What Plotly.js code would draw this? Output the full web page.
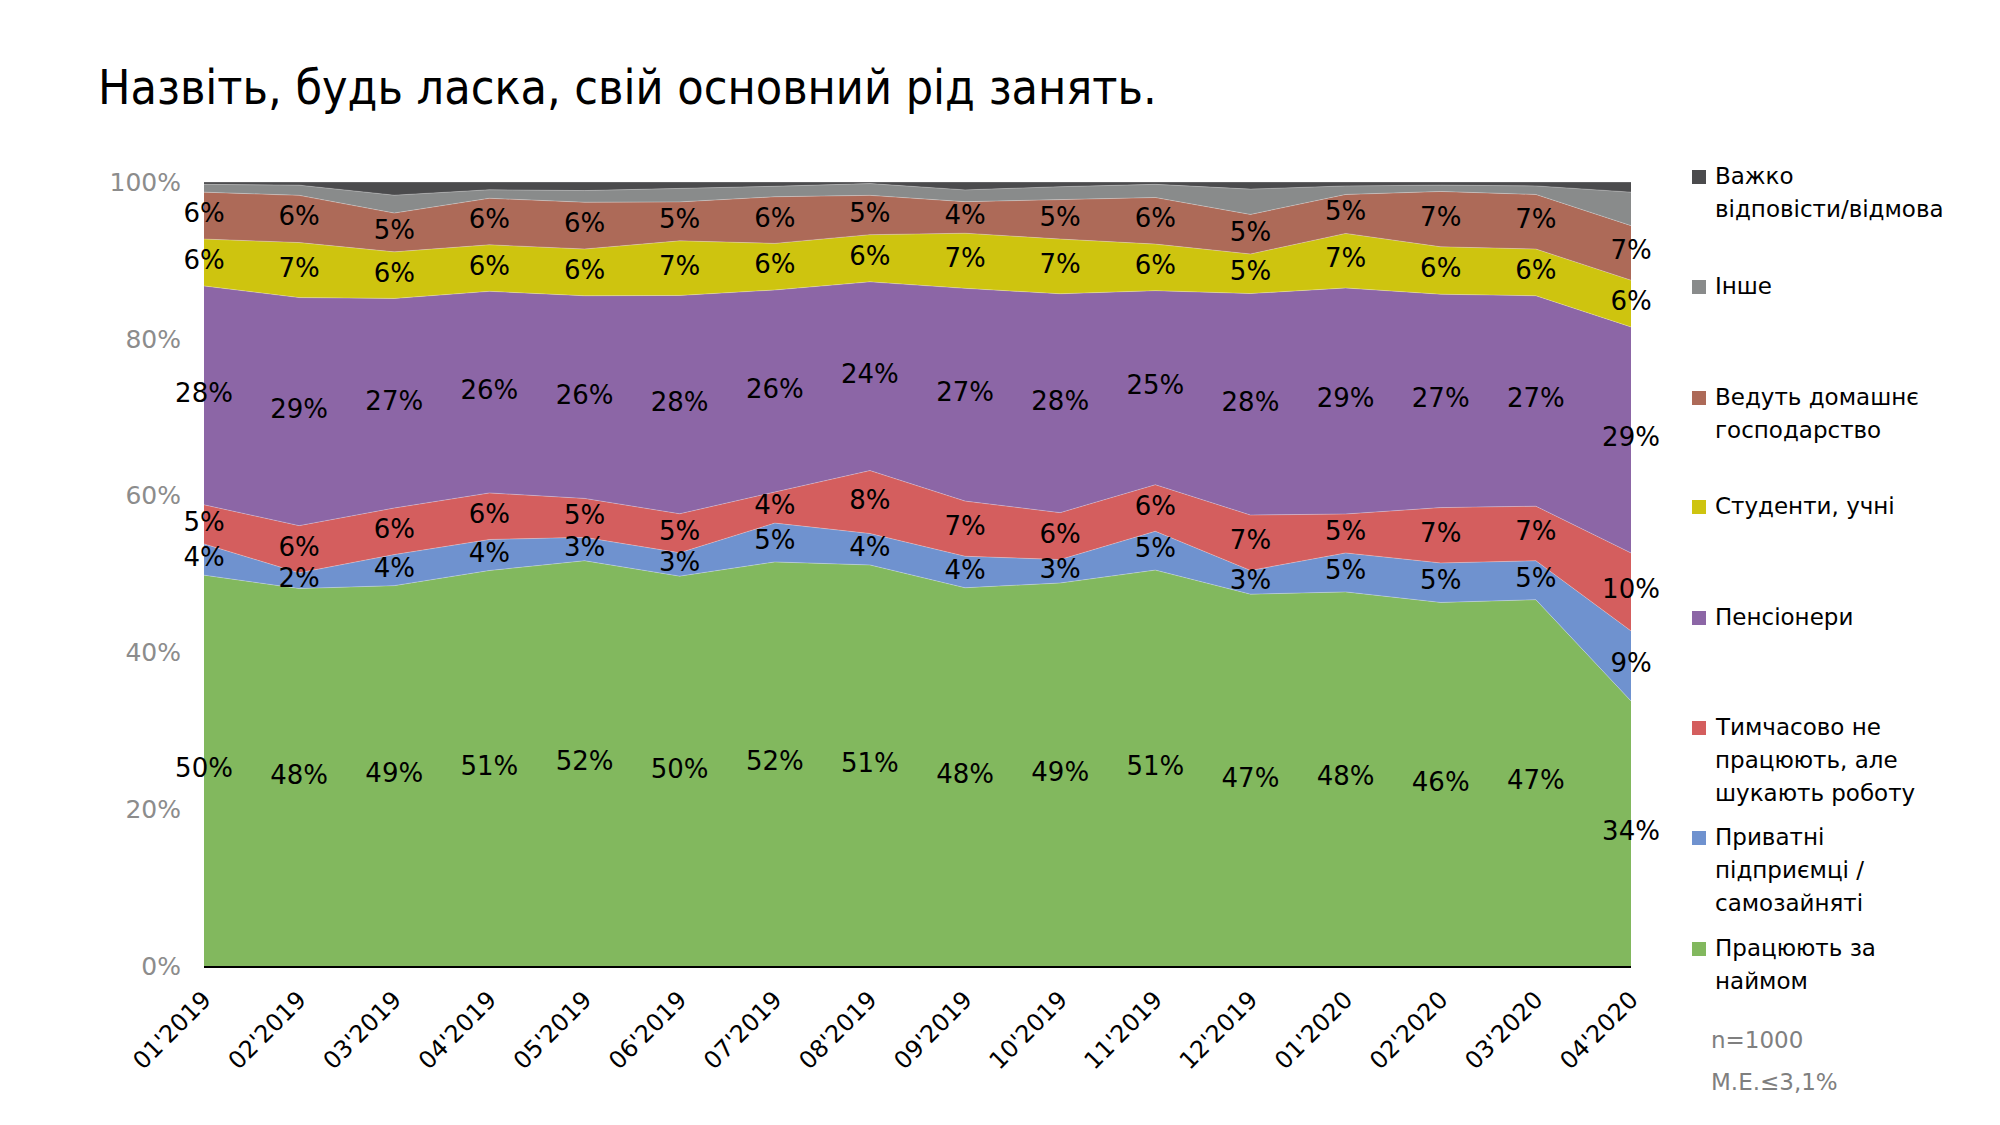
<!DOCTYPE html>
<html>
<head>
<meta charset="utf-8">
<script src="https://cdn.plot.ly/plotly-3.0.1.min.js"></script>
<style>
  html, body { margin: 0; padding: 0; background: #fff; }
  #chart { width: 2000px; height: 1125px; }
</style>
</head>
<body>
<div id="chart"></div>
<script>
const months = ["01'2019", "02'2019", "03'2019", "04'2019", "05'2019", "06'2019", "07'2019", "08'2019",
  "09'2019", "10'2019", "11'2019", "12'2019", "01'2020", "02'2020", "03'2020", "04'2020"]

// values, % (bottom to top)
const naym   = [50, 48, 49, 51, 52, 50, 52, 51, 48, 49, 51, 47, 48, 46, 47, 34]
const pryv   = [4, 2, 4, 4, 3, 3, 5, 4, 4, 3, 5, 3, 5, 5, 5, 9]
const tymch  = [5, 6, 6, 6, 5, 5, 4, 8, 7, 6, 6, 7, 5, 7, 7, 10]
const pens   = [28, 29, 27, 26, 26, 28, 26, 24, 27, 28, 25, 28, 29, 27, 27, 29]
const stud   = [6, 7, 6, 6, 6, 7, 6, 6, 7, 7, 6, 5, 7, 6, 6, 6]
const domg   = [6, 6, 5, 6, 6, 5, 6, 5, 4, 5, 6, 5, 5, 7, 7, 7]
// no labels in the source, read from band thickness
const inshe  = [1.0, 1.3, 2.3, 1.1, 1.5, 1.7, 1.35, 1.5, 1.5, 1.7, 1.7, 3.2, 1.1, 0.8, 1.1, 4.3]
const vazhko = [0.3, 0.4, 1.7, 1.0, 1.1, 0.85, 0.55, 0.2, 1.0, 0.6, 0.3, 0.9, 0.5, 0.4, 0.5, 1.3]

const yTicks = [0, 20, 40, 60, 80, 100]
const yTickText = ['0%', '20%', '40%', '60%', '80%', '100%']

const seriesNames = ['Працюють за наймом', 'Приватні підприємці / самозайняті',
  'Тимчасово не працюють, але шукають роботу', 'Пенсіонери', 'Студенти, учні',
  'Ведуть домашнє господарство', 'Інше', 'Важко відповісти/відмова']
const seriesValues = [naym, pryv, tymch, pens, stud, domg, inshe, vazhko]
const colors = ['#82b85e', '#6f92cf', '#d45e5e', '#8c66a6', '#cec40f', '#ad6a58', '#898b8b', '#4b4b4d']
const labelled = 6  // only the first six bands carry data labels

// legend text lines (top to bottom), drawn by hand like the source
const legendLines = [
  ['Важко', 'відповісти/відмова'],
  ['Інше'],
  ['Ведуть домашнє', 'господарство'],
  ['Студенти, учні'],
  ['Пенсіонери'],
  ['Тимчасово не', 'працюють, але', 'шукають роботу'],
  ['Приватні', 'підприємці /', 'самозайняті'],
  ['Працюють за', 'наймом']
]
const legendColors = [colors[7], colors[6], colors[5], colors[4], colors[3], colors[2], colors[1], colors[0]]

// plot box in page pixels
const L = 204, R = 1631, T = 182, B = 966
const px2x = (px) => (px - L) / (R - L)
const py2y = (py) => (B - py) / (B - T)

const font = 'DejaVu Sans, Verdana, sans-serif'
const titleFont = 'DejaVu Sans Condensed, Liberation Sans Narrow, DejaVu Sans, sans-serif'

const totals = months.map((m, i) => seriesValues.reduce((s, arr) => s + arr[i], 0))

const data = []
seriesValues.forEach((vals, k) => {
  data.push({
    x: months,
    y: vals,
    name: seriesNames[k],
    type: 'scatter',
    mode: 'lines',
    stackgroup: 'one',
    groupnorm: 'percent',
    fillcolor: colors[k],
    line: { width: 0.8, color: 'rgba(255,255,255,0.35)' },
    hoverinfo: 'skip'
  })
})

// data labels sit at the middle of each band
for (let k = 0; k < labelled; k++) {
  const mids = months.map((m, i) => {
    let below = 0
    for (let j = 0; j < k; j++) below += seriesValues[j][i]
    return (below + seriesValues[k][i] / 2) / totals[i] * 100
  })
  data.push({
    x: months,
    y: mids,
    type: 'scatter',
    mode: 'text',
    text: seriesValues[k].map(v => v + '%'),
    textposition: 'middle center',
    textfont: { family: font, size: 26, color: '#000' },
    cliponaxis: false,
    showlegend: false,
    hoverinfo: 'skip'
  })
}

const annotations = [{
  xref: 'paper', yref: 'paper',
  x: px2x(96), y: py2y(87),
  xanchor: 'left', yanchor: 'middle',
  text: 'Назвіть, будь ласка, свій основний рід занять.',
  showarrow: false,
  font: { family: titleFont, size: 48, color: '#000' }
}]
const shapes = []

const entryTops = [176, 286, 397, 506, 617, 727, 837, 948]
const lineStep = 33
legendLines.forEach((lines, k) => {
  const y0 = entryTops[k]
  shapes.push({
    type: 'rect', xref: 'paper', yref: 'paper',
    xsizemode: 'pixel', ysizemode: 'pixel',
    xanchor: px2x(1699), yanchor: py2y(y0 + 1),
    x0: -7, x1: 7, y0: -7, y1: 7,
    fillcolor: legendColors[k], line: { width: 0 }
  })
  lines.forEach((t, j) => {
    annotations.push({
      xref: 'paper', yref: 'paper',
      x: px2x(1713), y: py2y(y0 + j * lineStep),
      xanchor: 'left', yanchor: 'middle',
      text: t, showarrow: false,
      font: { family: font, size: 23, color: '#000' }
    })
  })
})

annotations.push({
  xref: 'paper', yref: 'paper', x: px2x(1709), y: py2y(1040),
  xanchor: 'left', yanchor: 'middle', text: 'n=1000', showarrow: false,
  font: { family: font, size: 23, color: '#7f7f7f' }
})
annotations.push({
  xref: 'paper', yref: 'paper', x: px2x(1709), y: py2y(1082),
  xanchor: 'left', yanchor: 'middle', text: 'М.Е.≤3,1%', showarrow: false,
  font: { family: font, size: 23, color: '#7f7f7f' }
})

const layout = {
  width: 2000,
  height: 1125,
  margin: { l: L, r: 2000 - R, t: T, b: 1125 - B, pad: 0 },
  paper_bgcolor: '#fff',
  plot_bgcolor: '#fff',
  showlegend: false,
  xaxis: {
    type: 'category',
    range: [0, months.length - 1],
    showgrid: false,
    zeroline: false,
    showline: true,
    linecolor: '#000',
    linewidth: 2,
    ticks: '',
    tickangle: -45,
    ticklabelstandoff: 8,
    tickfont: { family: font, size: 24, color: '#000' }
  },
  yaxis: {
    range: [0, 100],
    tickmode: 'array',
    tickvals: yTicks,
    ticktext: yTickText,
    showgrid: false,
    zeroline: false,
    showline: false,
    ticks: '',
    ticklabelstandoff: 22,
    tickfont: { family: font, size: 25, color: '#8c8c8c' }
  },
  annotations: annotations,
  shapes: shapes
}

Plotly.newPlot('chart', data, layout, { displayModeBar: false, staticPlot: true })
</script>
</body>
</html>
